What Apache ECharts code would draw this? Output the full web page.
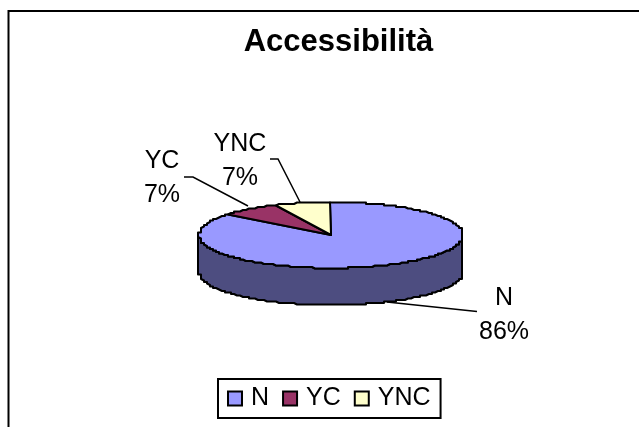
<!DOCTYPE html>
<html>
<head>
<meta charset="utf-8">
<style>
html, body { margin: 0; padding: 0; background: #fff; }
#chart { width: 639px; height: 427px; }
</style>
<script src="https://cdn.jsdelivr.net/npm/echarts@6/dist/echarts.min.js"></script>
</head>
<body>
<div id="chart"></div>
<script>
const categories = ['N', 'YC', 'YNC'];
const values = [86, 7, 7];
const colors = ['#9999FF', '#993366', '#FFFFCC'];

const FONT = '"Liberation Sans", Arial, sans-serif';
const total = values.reduce((a, b) => a + b, 0);

// flattened pie, Excel style
const cx = 331, cy = 235, rx = 132, ry = 33, depth = 37;
const sideColor = '#4D4D80';

// label text centre and leader line for each slice
const callouts = {
    N: { x: 504, y: 315, line: [[387, 302], [477, 311.5]] },
    YC: { x: 162, y: 178, line: [[184, 177], [193, 177], [248, 206]] },
    YNC: { x: 240, y: 161, line: [[270, 159], [278, 159], [300, 202]] }
};

// the source rim is stepped, so snap it to a coarse grid
const rimPoint = (deg, dy) => {
    const a = deg * Math.PI / 180;
    const x = cx + rx * Math.sin(a);
    const y = cy + dy - ry * Math.cos(a);
    return [Math.round(x / 3) * 3, Math.round(y / 1.5) * 1.5];
};

const arcPoints = (from, to, dy) => {
    const pts = [];
    for (let d = from; d <= to; d += 1) pts.push(rimPoint(d, dy));
    pts.push(rimPoint(to, dy));
    return pts;
};

const makeRenderItem = (index) => (params, api) => {
    const before = values.slice(0, index).reduce((a, b) => a + b, 0);
    const start = before / total * 360;
    const end = start + api.value(0) / total * 360;
    const lineStyle = { stroke: '#000', lineWidth: 2, lineJoin: 'round' };
    const children = [];

    // front wall, only the part of the rim facing the viewer
    const wallFrom = Math.max(start, 90);
    const wallTo = Math.min(end, 270);
    if (wallTo > wallFrom) {
        const top = arcPoints(wallFrom, wallTo, 0);
        const bottom = arcPoints(wallFrom, wallTo, depth).reverse();
        children.push({
            type: 'polygon',
            shape: { points: top.concat(bottom) },
            style: { fill: sideColor, ...lineStyle }
        });
    }

    children.push({
        type: 'polygon',
        shape: { points: [[cx, cy]].concat(arcPoints(start, end, 0)) },
        style: { fill: colors[index], ...lineStyle }
    });

    const name = categories[index];
    const c = callouts[name];
    children.push({
        type: 'polyline',
        shape: { points: c.line },
        style: { fill: 'none', stroke: '#000', lineWidth: 1.5 }
    });
    children.push({
        type: 'text',
        style: {
            x: c.x,
            y: c.y,
            text: name + '\n' + Math.round(api.value(0) / total * 100) + '%',
            fill: '#000',
            font: '25px ' + FONT,
            lineHeight: 34,
            align: 'center',
            verticalAlign: 'middle'
        }
    });
    return { type: 'group', children };
};

const chart = echarts.init(document.getElementById('chart'), null, { renderer: 'canvas' });

chart.setOption({
    animation: false,
    backgroundColor: '#fff',
    title: {
        text: 'Accessibilità',
        left: 333.5,
        top: 22,
        textAlign: 'center',
        textStyle: { color: '#000', fontFamily: FONT, fontWeight: 'bold', fontSize: 31 }
    },
    legend: {
        data: categories,
        left: 218,
        top: 379,
        orient: 'horizontal',
        padding: [7, 10, 7, 9],
        borderColor: '#000',
        borderWidth: 2,
        borderRadius: 0,
        itemWidth: 14,
        itemHeight: 14,
        itemGap: 13,
        icon: 'rect',
        selectedMode: false,
        itemStyle: { borderColor: '#000', borderWidth: 2 },
        textStyle: { color: '#000', fontFamily: FONT, fontSize: 25, padding: [0, 0, 0, 4] }
    },
    graphic: [{
        type: 'polyline',
        silent: true,
        shape: { points: [[8.5, 427], [8.5, 11], [639, 11]] },
        style: { fill: 'none', stroke: '#000', lineWidth: 2 }
    }],
    series: categories.map((name, i) => ({
        type: 'custom',
        name: name,
        coordinateSystem: 'none',
        silent: true,
        itemStyle: { color: colors[i] },
        data: [[values[i]]],
        renderItem: makeRenderItem(i)
    }))
});
</script>
</body>
</html>
